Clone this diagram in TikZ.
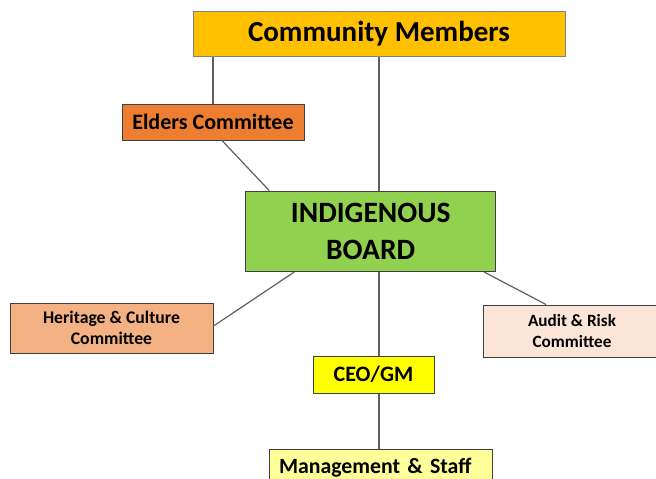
\documentclass[tikz,border=0pt]{standalone}
\usepackage{fontspec}
\setmainfont{Carlito}
\usetikzlibrary{calc}
\definecolor{cComm}{HTML}{FFC000}
\definecolor{cElder}{HTML}{ED7D31}
\definecolor{cBoard}{HTML}{92D050}
\definecolor{cHer}{HTML}{F4B183}
\definecolor{cAud}{HTML}{FBE5D6}
\definecolor{cCeo}{HTML}{FFFF00}
\definecolor{cMgmt}{HTML}{FFFF99}
\definecolor{cEdge}{HTML}{404040}
\definecolor{cLine}{HTML}{606060}
\tikzset{
  box/.style={draw=cEdge, line width=1pt, inner sep=0pt, align=center, font=\bfseries},
  conn/.style={draw=cLine, line width=1.2pt},
}
\begin{document}
\begin{tikzpicture}[x=1pt,y=-1pt]
\useasboundingbox (0,0) rectangle (656,479);
\node[box, fill=cComm, draw=gray, minimum width=372pt, minimum height=45pt, font=\bfseries\fontsize{29}{32}\selectfont] (comm) at (379,33.5) {\raisebox{-2pt}{Community Members}};
\node[box, fill=cElder, minimum width=182pt, minimum height=36pt, font=\bfseries\fontsize{22}{26}\selectfont] (elders) at (213,122) {Elders Committee};
\node[box, fill=cBoard, minimum width=250pt, minimum height=80.5pt, font=\bfseries\fontsize{29.5}{37}\selectfont] (board) at (370.7,231.3) {INDIGENOUS\\BOARD};
\node[box, fill=cHer, minimum width=203pt, minimum height=50pt, font=\bfseries\fontsize{17.7}{21}\selectfont] (her) at (111.5,328) {Heritage \& Culture\\Committee};
\node[box, fill=cAud, minimum width=178pt, minimum height=52pt, font=\bfseries\fontsize{17.2}{21}\selectfont] (aud) at (572,331) {Audit \& Risk\\Committee};
\node[box, fill=cCeo, minimum width=121pt, minimum height=37pt, font=\bfseries\fontsize{22}{26}\selectfont] (ceo) at (373.5,374.5) {CEO/GM};
\node[box, fill=cMgmt, anchor=north, text width=203pt, inner xsep=10pt, inner ysep=8pt, text height=16pt, text depth=5pt, align=left, font=\bfseries\fontsize{21.8}{26}\selectfont] (mgmt) at (380.5,449) {Management \& Staff};
\draw[conn] (elders.north) -- (elders.north |- comm.south);
\draw[conn] (comm.south) -- (comm.south |- board.north);
\draw[conn] ($(elders.south)+(9,0)$) -- ($(board.north west)+(24,0)$);
\draw[conn] ($(board.south west)+(49,0)$) -- ($(her.east)+(0,-2)$);
\draw[conn] ($(board.south east)+(-12,0)$) -- ($(aud.north)+(-26,0)$);
\draw[conn] (board.south -| comm.south) -- (comm.south |- ceo.north);
\draw[conn] (ceo.south -| comm.south) -- (comm.south |- mgmt.north);
\end{tikzpicture}
\end{document}
